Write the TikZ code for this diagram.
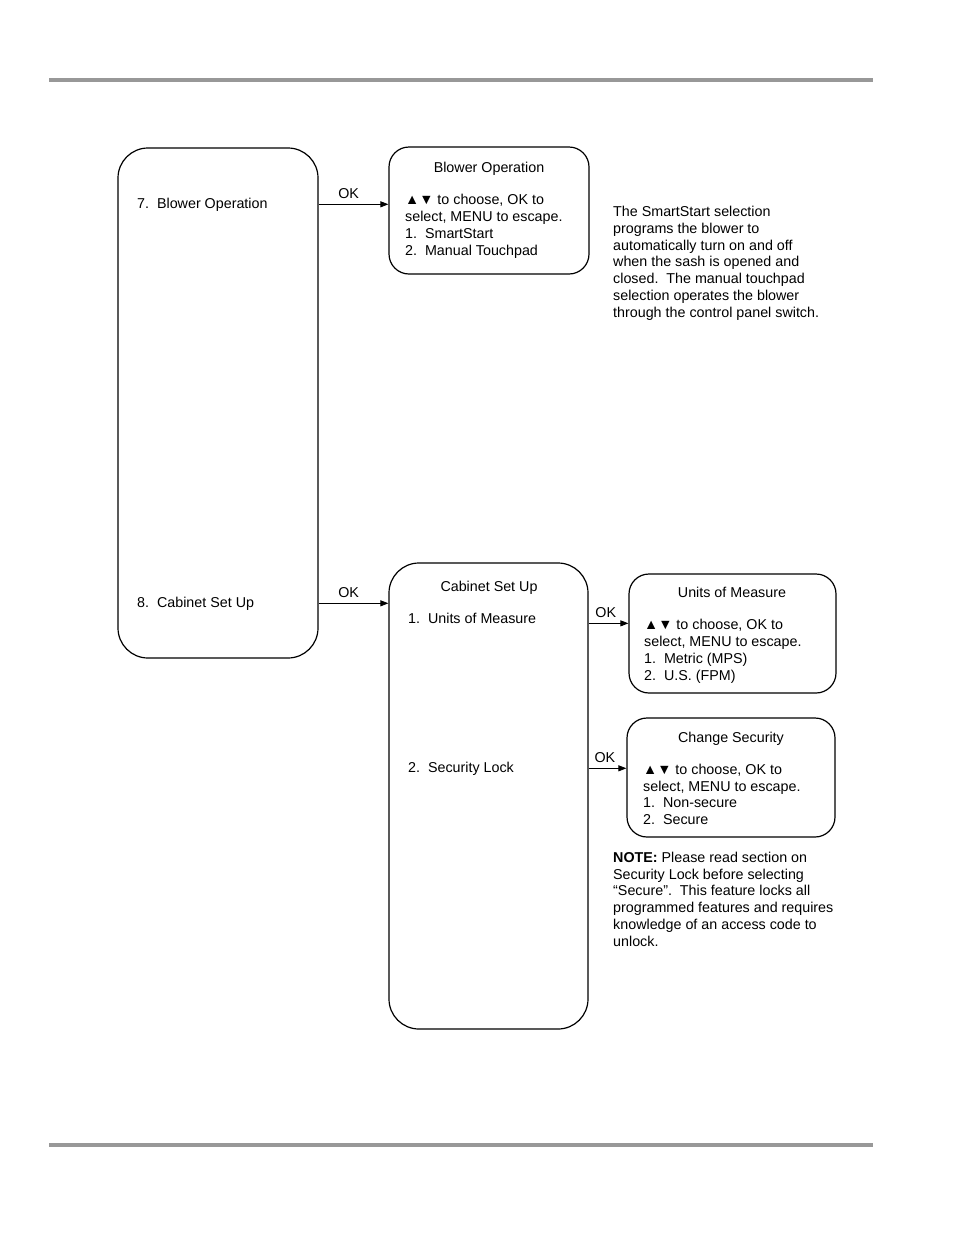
\documentclass[tikz,border=0pt]{standalone}
\usepackage{fontspec}
\setmainfont{Liberation Sans}
\usetikzlibrary{arrows.meta, positioning, calc}
\definecolor{rulegray}{RGB}{152, 152, 152}

\begin{document}
\begin{tikzpicture}[
  x=1pt, y=-1pt,
  every node/.style={font=\fontsize{14.3}{16.7}\selectfont, inner sep=0pt},
  menubox/.style={draw, line width=1.2pt, rounded corners=30pt},
  dialog/.style={draw, line width=1.2pt, rounded corners=20pt},
  txt/.style={anchor=base west, align=left},
  ttl/.style={anchor=base},
  arr/.style={-{Triangle[length=8pt, width=6pt]}, line width=0.9pt},
  oklbl/.style={above=5pt, pos=0.43}
]
  \useasboundingbox (0,0) rectangle (954,1235);
  \draw[rulegray, line width=4pt] (49,80) -- (873,80);
  \draw[rulegray, line width=4pt] (49,1145) -- (873,1145);

  % boxes
  \node[menubox, minimum width=200pt, minimum height=510pt] (lbox) at (218,403) {};
  \node[dialog, minimum width=200pt, minimum height=127pt] (blower) at (489,210.5) {};
  \node[menubox, minimum width=199pt, minimum height=466pt] (cab) at (488.5,796) {};
  \node[dialog, minimum width=207pt, minimum height=119pt] (units) at (732.5,633.5) {};
  \node[dialog, minimum width=208pt, minimum height=119pt] (secur) at (731,777.5) {};

  % texts (multi-line nodes sit on the baseline of their last line)
  \node[txt] (item7) at (137,208) {7.\ \ Blower Operation};
  \node[txt] (item8) at (137,607) {8.\ \ Cabinet Set Up};
  \node[ttl] (blowtitle) at (489,172) {Blower Operation};
  \node[txt] (blowbody) at (405,255) {▲▼ to choose, OK to\\select, MENU to escape.\\1.\ \ SmartStart\\2.\ \ Manual Touchpad};
  \node[txt] (smartnote) at (613,317) {The SmartStart selection\\programs the blower to\\automatically turn on and off\\when the sash is opened and\\closed.\ \ The manual touchpad\\selection operates the blower\\through the control panel switch.};
  \node[ttl] (cabtitle) at (489,591) {Cabinet Set Up};
  \node[txt] (cab1) at (408,623) {1.\ \ Units of Measure};
  \node[txt] (cab2) at (408,772) {2.\ \ Security Lock};
  \node[ttl] (unittitle) at (732,597) {Units of Measure};
  \node[txt] (unitbody) at (644,680) {▲▼ to choose, OK to\\select, MENU to escape.\\1.\ \ Metric (MPS)\\2.\ \ U.S. (FPM)};
  \node[ttl] (sectitle) at (731,742) {Change Security};
  \node[txt] (secbody) at (643,824.5) {▲▼ to choose, OK to\\select, MENU to escape.\\1.\ \ Non-secure\\2.\ \ Secure};
  \node[txt] (secnote) at (613,946) {\textbf{NOTE:} Please read section on\\Security Lock before selecting\\“Secure”.\ \ This feature locks all\\programmed features and requires\\knowledge of an access code to\\unlock.};

  % connectors
  \draw[arr] (item7 -| lbox.east) -- node[oklbl] {OK} (item7 -| blower.west);
  \draw[arr] (item8 -| lbox.east) -- node[oklbl] {OK} (item8 -| cab.west);
  \draw[arr] (cab1.south -| cab.east) -- node[oklbl] {OK} (cab1.south -| units.west);
  \draw[arr] (cab2 -| cab.east) -- node[oklbl] {OK} (cab2 -| secur.west);
\end{tikzpicture}
\end{document}
